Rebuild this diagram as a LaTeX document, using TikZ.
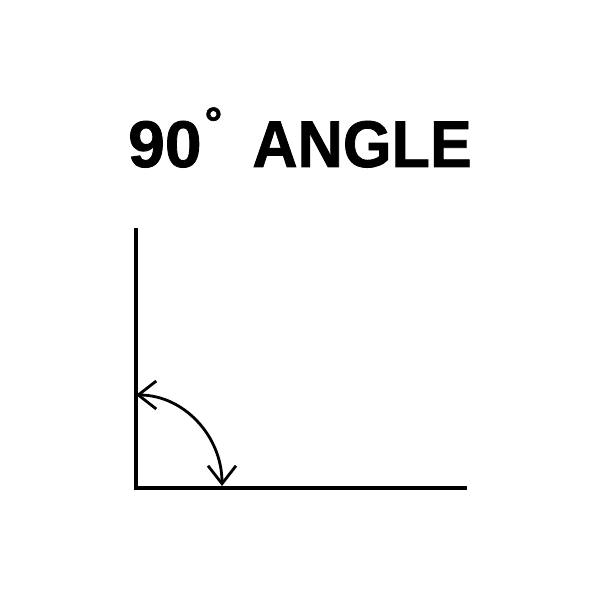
\documentclass[tikz,border=0pt]{standalone}
\usepackage{fontspec}
\setmainfont{Liberation Sans}
\usetikzlibrary{arrows.meta}
\begin{document}
\begin{tikzpicture}[x=1pt,y=1pt,
  axis/.style={line width=4.5pt},
  barb/.tip={Straight Barb[length=18pt,width=28pt,line width=2.8pt]},
  anglearc/.style={line width=2.8pt,{barb}-{barb}},
  titletext/.style={font=\fontsize{66}{70}\selectfont\bfseries\addfontfeature{FakeBold=1.2}, inner sep=0pt}]
\useasboundingbox (0,0) rectangle (600,600);
\fill[white] (0,0) rectangle (600,600);
\node[titletext, anchor=base west] (num) at (128,433) {90\kern3pt\raisebox{29pt}{\fontsize{44}{44}\selectfont°}};
\node[titletext, anchor=base east] (word) at (472,433) {\scalebox{0.95}[1]{ANGLE}};
\coordinate (O) at (136,112);
\coordinate (T) at (136,370);
\coordinate (R) at (465,112);
\draw[axis, line cap=rect] (T) -- (O) -- (R);
\coordinate (A) at (222,114);
\draw[anglearc] (A) arc[start angle=0, end angle=90, x radius=86, y radius=91];
\end{tikzpicture}
\end{document}
